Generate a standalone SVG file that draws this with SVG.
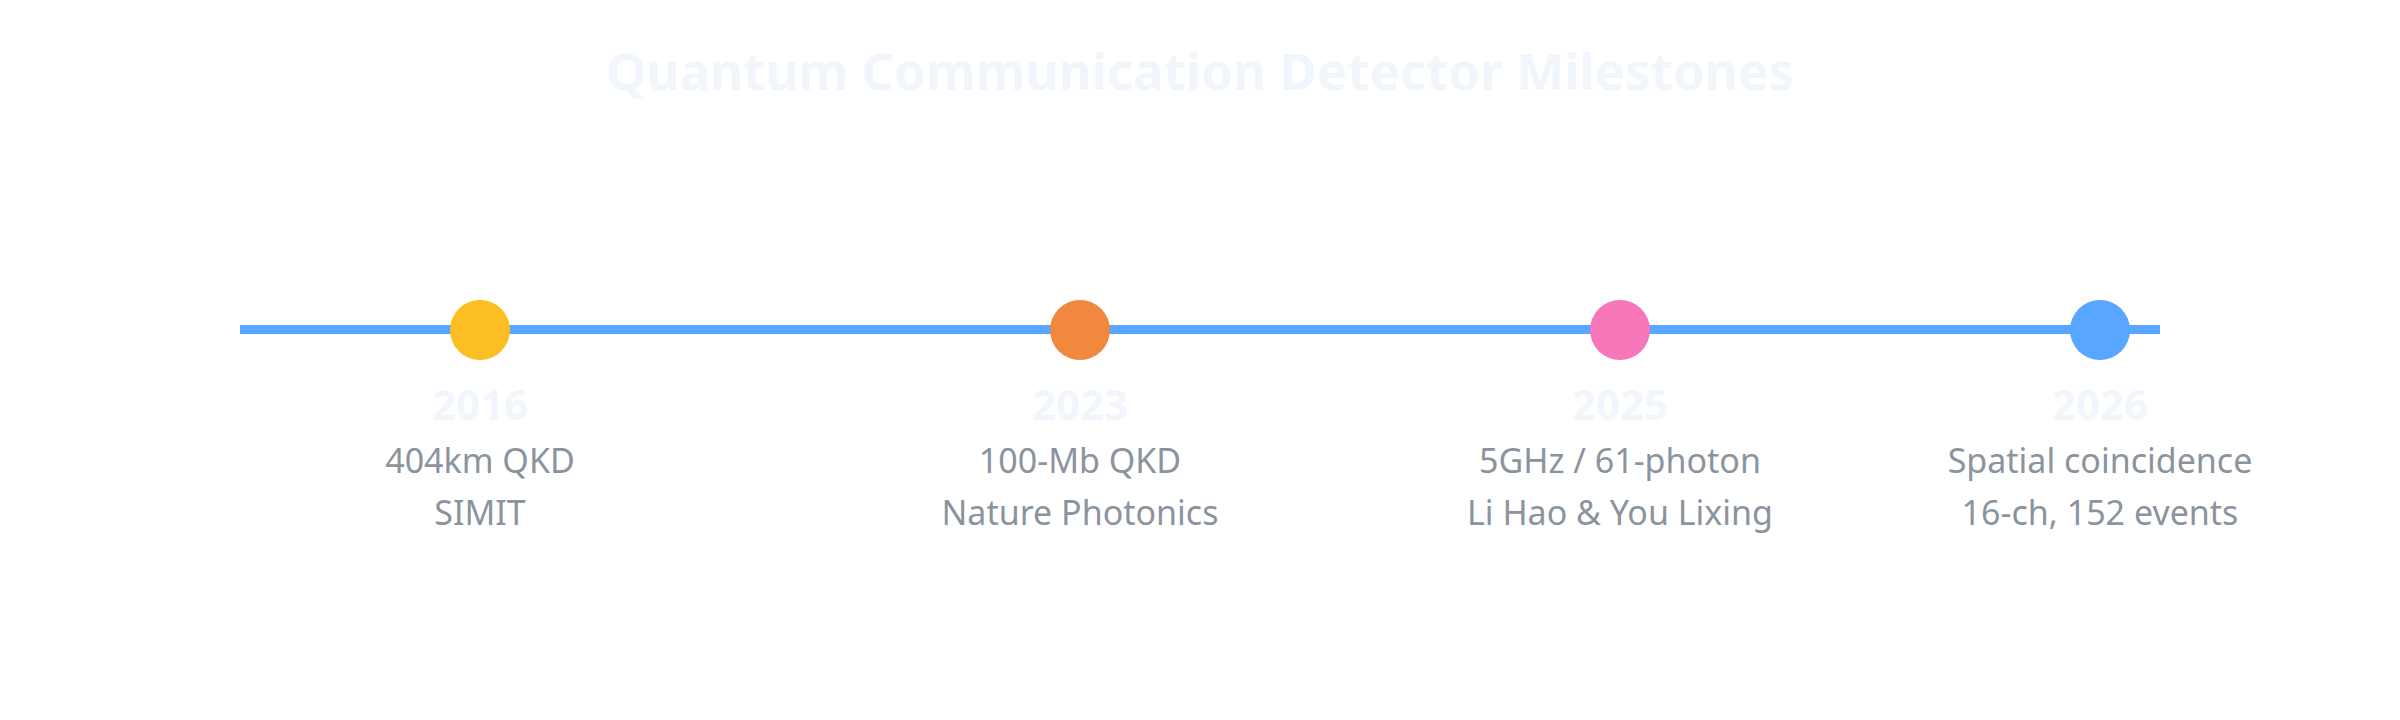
<svg xmlns="http://www.w3.org/2000/svg" width="2400" height="720" viewBox="0 0 2400 720">
<style>
.title{font-family:"Noto Sans","Open Sans","Liberation Sans",sans-serif;font-weight:700;font-size:51px;fill:#f0f6fc;text-anchor:middle}
.year{font-family:"Noto Sans","Open Sans","Liberation Sans",sans-serif;font-weight:700;font-size:42px;fill:#f0f6fc;text-anchor:middle}
.desc{font-family:"Noto Sans","Open Sans","Liberation Sans",sans-serif;font-size:34px;fill:#8b949e;text-anchor:middle}
</style>
<rect width="2400" height="720" fill="#ffffff"/>
<text class="title" x="1200" y="90">Quantum Communication Detector Milestones</text>
<g id="connectors">
<line x1="240" y1="329.5" x2="2160" y2="329.5" stroke="#58a6ff" stroke-width="9"/>
</g>
<g id="m2016">
<circle cx="480" cy="330" r="30" fill="#fbbf24"/>
<text class="year" x="480" y="420">2016</text>
<text class="desc" x="480" y="473">404km QKD</text>
<text class="desc" x="480" y="525">SIMIT</text>
</g>
<g id="m2023">
<circle cx="1080" cy="330" r="30" fill="#f0883e"/>
<text class="year" x="1080" y="420">2023</text>
<text class="desc" x="1080" y="473">100-Mb QKD</text>
<text class="desc" x="1080" y="525">Nature Photonics</text>
</g>
<g id="m2025">
<circle cx="1620" cy="330" r="30" fill="#f778ba"/>
<text class="year" x="1620" y="420">2025</text>
<text class="desc" x="1620" y="473">5GHz / 61-photon</text>
<text class="desc" x="1620" y="525">Li Hao &amp; You Lixing</text>
</g>
<g id="m2026">
<circle cx="2100" cy="330" r="30" fill="#58a6ff"/>
<text class="year" x="2100" y="420">2026</text>
<text class="desc" x="2100" y="473">Spatial coincidence</text>
<text class="desc" x="2100" y="525">16-ch, 152 events</text>
</g>
</svg>
